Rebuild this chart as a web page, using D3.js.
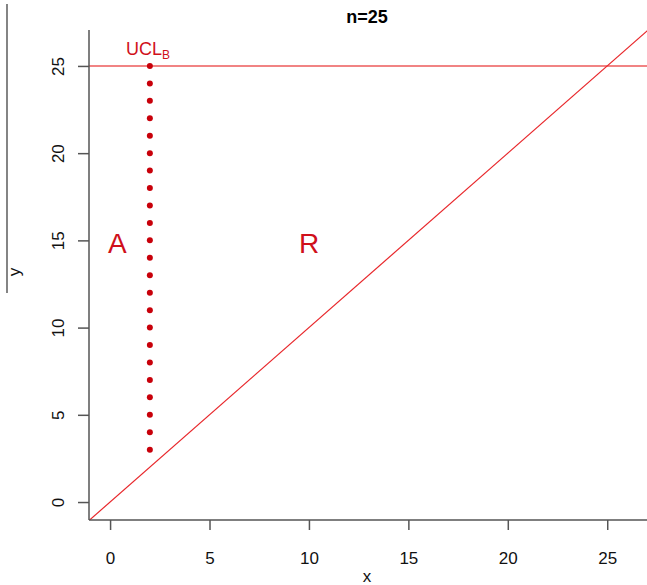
<!DOCTYPE html>
<html>
<head>
<meta charset="utf-8">
<style>
  body { margin: 0; background: #fff; }
  text { font-family: "Liberation Sans", Arial, sans-serif; }
  .axis path, .axis line { stroke: #555; stroke-width: 1.5; }
  .axis text { font-size: 17px; fill: #111; }
</style>
<script src="https://d3js.org/d3.v7.min.js"></script>
</head>
<body>
<svg id="chart" width="647" height="585"></svg>
<script>
// chart values
var xTicks = [0, 5, 10, 15, 20, 25];
var yTicks = [0, 5, 10, 15, 20, 25];
var ucl = 25;          // horizontal limit
var dotX = 2;          // x of the dotted column
var dotY = [3, 4, 5, 6, 7, 8, 9, 10, 11, 12, 13, 14, 15, 16, 17, 18, 19, 20, 21, 22, 23, 24, 25];
var diag = [[-1.06, -1.06], [27.1, 27.1]];   // y = x line
var regions = [{label: "A", x: -0.1, y: 14.3}, {label: "R", x: 9.5, y: 14.3}];

var svg = d3.select("#chart");
var pL = 89, pR = 647, pT = 30, pB = 520;

var x = d3.scaleLinear().domain([-1.06, 27]).range([pL, pR]);
var y = d3.scaleLinear().domain([-1.03, 27.06]).range([pB, pT]);

svg.append("clipPath").attr("id", "clip")
  .append("rect").attr("x", pL).attr("y", pT)
  .attr("width", pR - pL).attr("height", pB - pT);

var plot = svg.append("g").attr("clip-path", "url(#clip)");

// horizontal UCL line
plot.append("line")
  .attr("x1", x(-1.06)).attr("x2", x(27))
  .attr("y1", y(ucl)).attr("y2", y(ucl))
  .attr("stroke", "#ec5a5a").attr("stroke-width", 1.6);

// diagonal
plot.append("path")
  .datum(diag)
  .attr("d", d3.line().x(function(d) { return x(d[0]); }).y(function(d) { return y(d[1]); }))
  .attr("stroke", "#e8262a").attr("stroke-width", 1.2).attr("fill", "none");

// dotted column
plot.selectAll("circle.dot")
  .data(dotY)
  .enter().append("circle")
    .attr("class", "dot")
    .attr("cx", x(dotX))
    .attr("cy", function(d) { return y(d); })
    .attr("r", 3)
    .attr("fill", "#c8000a");

// axes
var xAxis = svg.append("g").attr("class", "axis")
  .attr("transform", "translate(0," + pB + ")")
  .call(d3.axisBottom(x).tickValues(xTicks).tickSize(10).tickPadding(22).tickSizeOuter(0));
xAxis.select(".domain").attr("d", "M" + pL + ",0H" + pR);

var yAxis = svg.append("g").attr("class", "axis")
  .attr("transform", "translate(" + pL + ",0)")
  .call(d3.axisLeft(y).tickValues(yTicks).tickSize(11).tickSizeOuter(0));
yAxis.select(".domain").attr("d", "M0," + pT + "V" + pB);
yAxis.selectAll(".tick text")
  .attr("x", null).attr("dy", null)
  .attr("text-anchor", "middle")
  .attr("transform", "translate(-31,0) rotate(-90)")
  .attr("dy", "0.35em");

// labels
svg.append("text").attr("x", 367).attr("y", 23)
  .attr("text-anchor", "middle").attr("font-size", 18).attr("font-weight", "bold")
  .text("n=25");

svg.append("text").attr("x", 367).attr("y", 582)
  .attr("text-anchor", "middle").attr("font-size", 17).attr("fill", "#111")
  .text("x");

svg.append("text")
  .attr("transform", "translate(20,272) rotate(-90)")
  .attr("text-anchor", "middle").attr("font-size", 17).attr("fill", "#111")
  .text("y");
// bar over the y label
svg.append("line").attr("x1", 7).attr("x2", 7).attr("y1", 4).attr("y2", 293)
  .attr("stroke", "#333").attr("stroke-width", 1.2);

var ucl_t = svg.append("text").attr("x", 126).attr("y", 55)
  .attr("font-size", 18).attr("fill", "#d0101a");
ucl_t.append("tspan").text("UCL");
ucl_t.append("tspan").attr("font-size", 12).attr("dy", 4).text("B");

svg.selectAll("text.region")
  .data(regions)
  .enter().append("text")
    .attr("class", "region")
    .attr("x", function(d) { return x(d.x); })
    .attr("y", function(d) { return y(d.y); })
    .attr("font-size", 28)
    .attr("fill", "#d0101a")
    .text(function(d) { return d.label; });
</script>
</body>
</html>
